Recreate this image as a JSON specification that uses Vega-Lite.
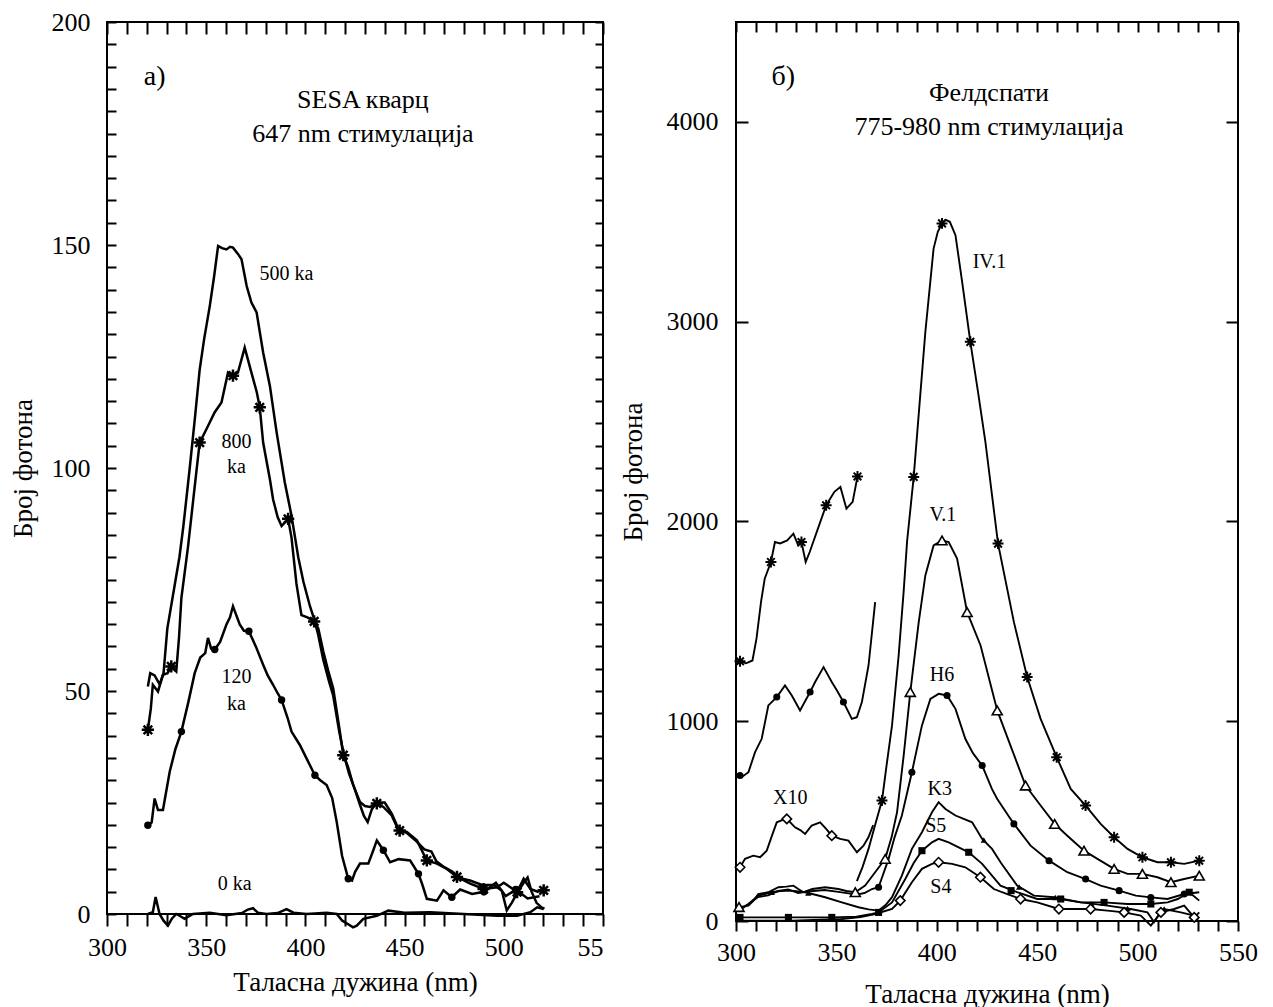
{
  "$schema": "https://vega.github.io/schema/vega-lite/v6.json",
  "background": "white",
  "padding": {"left": 8, "top": 8, "right": 5, "bottom": 5},
  "spacing": 133,
  "bounds": "flush",
  "datasets": {
    "leftLines": [
      {"series":"500ka","wl":320.6,"count":51},{"series":"500ka","wl":321.8,"count":54},{"series":"500ka","wl":324,"count":53.5},{"series":"500ka","wl":326.5,"count":51.5},{"series":"500ka","wl":328.5,"count":54},{"series":"500ka","wl":330.4,"count":64},{"series":"500ka","wl":334.6,"count":75},{"series":"500ka","wl":336.5,"count":80},{"series":"500ka","wl":338.5,"count":87},{"series":"500ka","wl":341.7,"count":100},{"series":"500ka","wl":344.5,"count":112},{"series":"500ka","wl":346.7,"count":122},{"series":"500ka","wl":349,"count":129},{"series":"500ka","wl":351.8,"count":136.3},{"series":"500ka","wl":354,"count":143},{"series":"500ka","wl":356,"count":149.8},{"series":"500ka","wl":358,"count":149.3},{"series":"500ka","wl":360.2,"count":149},{"series":"500ka","wl":362,"count":149.6},{"series":"500ka","wl":363.5,"count":149.4},{"series":"500ka","wl":366,"count":148},{"series":"500ka","wl":367.8,"count":146.8},{"series":"500ka","wl":370.4,"count":140.8},{"series":"500ka","wl":372.8,"count":137.1},{"series":"500ka","wl":375.4,"count":134.9},{"series":"500ka","wl":378.7,"count":125.9},{"series":"500ka","wl":382.1,"count":118.4},{"series":"500ka","wl":385.5,"count":108},{"series":"500ka","wl":389.6,"count":96.8},{"series":"500ka","wl":393,"count":89.3},{"series":"500ka","wl":396.4,"count":80},{"series":"500ka","wl":399,"count":74.5},{"series":"500ka","wl":402.3,"count":69},{"series":"500ka","wl":404.5,"count":66},{"series":"500ka","wl":406.5,"count":62.5},{"series":"500ka","wl":409,"count":57},{"series":"500ka","wl":412,"count":52},{"series":"500ka","wl":414,"count":49},{"series":"500ka","wl":417,"count":41},{"series":"500ka","wl":419.5,"count":35.5},{"series":"500ka","wl":422,"count":31.5},{"series":"500ka","wl":424.5,"count":28.5},{"series":"500ka","wl":427.5,"count":24.5},{"series":"500ka","wl":429.5,"count":22},{"series":"500ka","wl":431.4,"count":20.6},{"series":"500ka","wl":433.5,"count":23.5},{"series":"500ka","wl":436,"count":25},{"series":"500ka","wl":440,"count":25},{"series":"500ka","wl":443.5,"count":22.5},{"series":"500ka","wl":447,"count":19},{"series":"500ka","wl":451,"count":18.2},{"series":"500ka","wl":456,"count":16.3},{"series":"500ka","wl":460,"count":14.5},{"series":"500ka","wl":463.5,"count":14},{"series":"500ka","wl":466,"count":11.8},{"series":"500ka","wl":470,"count":10.5},{"series":"500ka","wl":474,"count":9.5},{"series":"500ka","wl":478,"count":8},{"series":"500ka","wl":483,"count":7.5},{"series":"500ka","wl":489,"count":6.5},{"series":"500ka","wl":495,"count":6.5},{"series":"500ka","wl":499,"count":5.2},{"series":"500ka","wl":501.5,"count":0.8},{"series":"500ka","wl":504,"count":2.5},{"series":"500ka","wl":506.5,"count":4.5},{"series":"500ka","wl":510,"count":7},{"series":"500ka","wl":512,"count":8.2},{"series":"500ka","wl":514,"count":5},{"series":"500ka","wl":516.5,"count":2.5},{"series":"500ka","wl":519,"count":1.5},{"series":"500ka","wl":520.5,"count":1.2},
      {"series":"800ka","wl":320.6,"count":41.3},{"series":"800ka","wl":322.1,"count":46.1},{"series":"800ka","wl":323.1,"count":51.4},{"series":"800ka","wl":325.7,"count":49.9},{"series":"800ka","wl":328.2,"count":53.6},{"series":"800ka","wl":330.5,"count":54},{"series":"800ka","wl":332.4,"count":55.5},{"series":"800ka","wl":334.9,"count":54.4},{"series":"800ka","wl":336.3,"count":62},{"series":"800ka","wl":337.5,"count":70.9},{"series":"800ka","wl":340.8,"count":82.2},{"series":"800ka","wl":343.5,"count":93},{"series":"800ka","wl":346.7,"count":105.7},{"series":"800ka","wl":350.1,"count":108.7},{"series":"800ka","wl":354.3,"count":112.5},{"series":"800ka","wl":357.7,"count":114.7},{"series":"800ka","wl":361,"count":121.4},{"series":"800ka","wl":363.5,"count":120.7},{"series":"800ka","wl":366,"count":121.4},{"series":"800ka","wl":369.4,"count":127},{"series":"800ka","wl":372.8,"count":121.4},{"series":"800ka","wl":375.5,"count":117},{"series":"800ka","wl":377,"count":113.6},{"series":"800ka","wl":378.7,"count":105.7},{"series":"800ka","wl":382.1,"count":97.5},{"series":"800ka","wl":383.7,"count":93},{"series":"800ka","wl":386,"count":89},{"series":"800ka","wl":388,"count":87},{"series":"800ka","wl":391.3,"count":88.6},{"series":"800ka","wl":393,"count":84.4},{"series":"800ka","wl":395.5,"count":74},{"series":"800ka","wl":398,"count":67},{"series":"800ka","wl":401,"count":66.5},{"series":"800ka","wl":404.4,"count":65.6},{"series":"800ka","wl":406.5,"count":64},{"series":"800ka","wl":409,"count":58.9},{"series":"800ka","wl":411.5,"count":54.5},{"series":"800ka","wl":414,"count":50.6},{"series":"800ka","wl":417,"count":42},{"series":"800ka","wl":419.1,"count":35.6},{"series":"800ka","wl":421.5,"count":33},{"series":"800ka","wl":424.1,"count":28.9},{"series":"800ka","wl":427.5,"count":25.1},{"series":"800ka","wl":430,"count":24.2},{"series":"800ka","wl":432.6,"count":24},{"series":"800ka","wl":436,"count":24.8},{"series":"800ka","wl":439.3,"count":24},{"series":"800ka","wl":443.5,"count":22.1},{"series":"800ka","wl":446.9,"count":18.8},{"series":"800ka","wl":451.1,"count":18.4},{"series":"800ka","wl":456.2,"count":16.5},{"series":"800ka","wl":461.2,"count":12},{"series":"800ka","wl":466.3,"count":11.3},{"series":"800ka","wl":471.3,"count":10.1},{"series":"800ka","wl":476.4,"count":8.3},{"series":"800ka","wl":483.1,"count":6.8},{"series":"800ka","wl":489.8,"count":5.6},{"series":"800ka","wl":496.6,"count":6},{"series":"800ka","wl":500,"count":7},{"series":"800ka","wl":503.3,"count":6},{"series":"800ka","wl":506.7,"count":4.9},{"series":"800ka","wl":510,"count":7.9},{"series":"800ka","wl":513.4,"count":5.6},{"series":"800ka","wl":517,"count":5},{"series":"800ka","wl":520.1,"count":5.3},
      {"series":"120ka","wl":320.6,"count":19.9},{"series":"120ka","wl":322.5,"count":20.5},{"series":"120ka","wl":324,"count":25.9},{"series":"120ka","wl":325.7,"count":23.3},{"series":"120ka","wl":328.2,"count":23.3},{"series":"120ka","wl":331.6,"count":31.9},{"series":"120ka","wl":334.5,"count":37},{"series":"120ka","wl":337.5,"count":40.9},{"series":"120ka","wl":341,"count":47.5},{"series":"120ka","wl":344.2,"count":54},{"series":"120ka","wl":347,"count":57.5},{"series":"120ka","wl":349.5,"count":58.5},{"series":"120ka","wl":350.9,"count":61.9},{"series":"120ka","wl":352.5,"count":59.5},{"series":"120ka","wl":354.3,"count":59.3},{"series":"120ka","wl":357,"count":61},{"series":"120ka","wl":360.2,"count":64.9},{"series":"120ka","wl":362,"count":66.5},{"series":"120ka","wl":363.5,"count":69},{"series":"120ka","wl":366.9,"count":64.9},{"series":"120ka","wl":369,"count":63.5},{"series":"120ka","wl":371.5,"count":63.4},{"series":"120ka","wl":375,"count":60},{"series":"120ka","wl":378.7,"count":55.9},{"series":"120ka","wl":381,"count":53.5},{"series":"120ka","wl":383.7,"count":51.4},{"series":"120ka","wl":386,"count":49.5},{"series":"120ka","wl":388,"count":48},{"series":"120ka","wl":391,"count":44},{"series":"120ka","wl":393,"count":40.9},{"series":"120ka","wl":397.2,"count":37.9},{"series":"120ka","wl":401,"count":34.5},{"series":"120ka","wl":404.8,"count":31.1},{"series":"120ka","wl":407.5,"count":30},{"series":"120ka","wl":410.7,"count":28.9},{"series":"120ka","wl":413.5,"count":26},{"series":"120ka","wl":415.8,"count":20.6},{"series":"120ka","wl":418.5,"count":13},{"series":"120ka","wl":421.6,"count":7.9},{"series":"120ka","wl":423.5,"count":7.5},{"series":"120ka","wl":425,"count":9.4},{"series":"120ka","wl":427.5,"count":11.3},{"series":"120ka","wl":431.7,"count":11.3},{"series":"120ka","wl":434,"count":14},{"series":"120ka","wl":436,"count":16.5},{"series":"120ka","wl":439.3,"count":14.3},{"series":"120ka","wl":442.7,"count":11.6},{"series":"120ka","wl":447,"count":12.3},{"series":"120ka","wl":452.8,"count":12},{"series":"120ka","wl":457,"count":9},{"series":"120ka","wl":459,"count":6.5},{"series":"120ka","wl":461.2,"count":3.4},{"series":"120ka","wl":466.3,"count":3},{"series":"120ka","wl":469.6,"count":5.3},{"series":"120ka","wl":473.8,"count":3.75},{"series":"120ka","wl":478,"count":5.5},{"series":"120ka","wl":484,"count":4.5},{"series":"120ka","wl":490,"count":5},{"series":"120ka","wl":496,"count":7},{"series":"120ka","wl":501,"count":4},{"series":"120ka","wl":506,"count":5.5},{"series":"120ka","wl":512,"count":3.5},{"series":"120ka","wl":518,"count":4},
      {"series":"0ka","wl":320.6,"count":0},{"series":"0ka","wl":323.1,"count":0.4},{"series":"0ka","wl":324.5,"count":3.8},{"series":"0ka","wl":326.5,"count":0},{"series":"0ka","wl":328.5,"count":-1.5},{"series":"0ka","wl":330.7,"count":-2.6},{"series":"0ka","wl":332.8,"count":-1},{"series":"0ka","wl":334.9,"count":0},{"series":"0ka","wl":337,"count":-0.5},{"series":"0ka","wl":339.1,"count":-1.1},{"series":"0ka","wl":343.3,"count":0},{"series":"0ka","wl":351.8,"count":0.3},{"series":"0ka","wl":360.2,"count":-0.3},{"series":"0ka","wl":368,"count":0.2},{"series":"0ka","wl":371,"count":1},{"series":"0ka","wl":373.6,"count":1.3},{"series":"0ka","wl":376,"count":0.3},{"series":"0ka","wl":380.4,"count":0},{"series":"0ka","wl":386,"count":0.2},{"series":"0ka","wl":390.5,"count":1.1},{"series":"0ka","wl":394,"count":0.3},{"series":"0ka","wl":400.6,"count":0},{"series":"0ka","wl":410.7,"count":0.3},{"series":"0ka","wl":415.8,"count":0},{"series":"0ka","wl":418.6,"count":-1.5},{"series":"0ka","wl":421.6,"count":-2.3},{"series":"0ka","wl":424,"count":-3},{"series":"0ka","wl":425.9,"count":-2.6},{"series":"0ka","wl":429.2,"count":-1.1},{"series":"0ka","wl":436,"count":-0.4},{"series":"0ka","wl":441.8,"count":0.75},{"series":"0ka","wl":450,"count":0.3},{"series":"0ka","wl":462.9,"count":0.4},{"series":"0ka","wl":479.7,"count":0},{"series":"0ka","wl":496.6,"count":-0.4},{"series":"0ka","wl":506.7,"count":-0.4},{"series":"0ka","wl":513.4,"count":0.4},{"series":"0ka","wl":516.8,"count":1.5},{"series":"0ka","wl":520.1,"count":1.1}
    ],
    "leftMarks": [
      {"series":"800ka","wl":320.6,"count":41.3},{"series":"800ka","wl":332.4,"count":55.5},{"series":"800ka","wl":346.7,"count":105.7},{"series":"800ka","wl":363.5,"count":120.7},{"series":"800ka","wl":377,"count":113.6},{"series":"800ka","wl":391.3,"count":88.6},{"series":"800ka","wl":404.4,"count":65.6},{"series":"800ka","wl":419.1,"count":35.6},{"series":"800ka","wl":436,"count":24.8},{"series":"800ka","wl":447.5,"count":18.7},{"series":"800ka","wl":461.2,"count":12},{"series":"800ka","wl":476.4,"count":8.3},{"series":"800ka","wl":489.8,"count":5.6},{"series":"800ka","wl":506.7,"count":4.9},{"series":"800ka","wl":520.1,"count":5.3},
      {"series":"120ka","wl":320.6,"count":19.9},{"series":"120ka","wl":337.5,"count":40.9},{"series":"120ka","wl":354.3,"count":59.3},{"series":"120ka","wl":371.5,"count":63.4},{"series":"120ka","wl":388,"count":48},{"series":"120ka","wl":404.8,"count":31.1},{"series":"120ka","wl":421.6,"count":7.9},{"series":"120ka","wl":439.3,"count":14.3},{"series":"120ka","wl":457,"count":9},{"series":"120ka","wl":473.8,"count":3.75},{"series":"120ka","wl":490,"count":5},{"series":"120ka","wl":506,"count":5.5}
    ],
    "leftText": [
      {"text":"a)","wl":324,"count":187.6,"kind":"panel"},
      {"text":"SESA кварц","wl":429,"count":182.4,"kind":"title"},
      {"text":"647 nm стимулација","wl":429,"count":174.9,"kind":"title"},
      {"text":"500 ka","wl":390.5,"count":143.5,"kind":"curve"},
      {"text":"800","wl":365.3,"count":105.8,"kind":"curve"},
      {"text":"ka","wl":365.3,"count":100.2,"kind":"curve"},
      {"text":"120","wl":365.3,"count":53.1,"kind":"curve"},
      {"text":"ka","wl":365.3,"count":47.1,"kind":"curve"},
      {"text":"0 ka","wl":364.4,"count":6.7,"kind":"curve"}
    ],
    "rightLines": [
      {"series":"IV.1x10","wl":300.5,"count":1285},{"series":"IV.1x10","wl":302,"count":1300},{"series":"IV.1x10","wl":305,"count":1290},{"series":"IV.1x10","wl":308.2,"count":1304},{"series":"IV.1x10","wl":310.2,"count":1413},{"series":"IV.1x10","wl":312.5,"count":1600},{"series":"IV.1x10","wl":314.3,"count":1713},{"series":"IV.1x10","wl":317.4,"count":1797},{"series":"IV.1x10","wl":319.4,"count":1897},{"series":"IV.1x10","wl":322,"count":1890},{"series":"IV.1x10","wl":325.5,"count":1905},{"series":"IV.1x10","wl":328.6,"count":1939},{"series":"IV.1x10","wl":331,"count":1880},{"series":"IV.1x10","wl":332.6,"count":1897},{"series":"IV.1x10","wl":334.7,"count":1797},{"series":"IV.1x10","wl":336.7,"count":1847},{"series":"IV.1x10","wl":340.8,"count":1964},{"series":"IV.1x10","wl":344.9,"count":2081},{"series":"IV.1x10","wl":349,"count":2148},{"series":"IV.1x10","wl":352,"count":2173},{"series":"IV.1x10","wl":355,"count":2064},{"series":"IV.1x10","wl":358.1,"count":2098},{"series":"IV.1x10","wl":360.5,"count":2225},
      {"series":"IV.1","wl":360.2,"count":200},{"series":"IV.1","wl":363,"count":270},{"series":"IV.1","wl":366,"count":361},{"series":"IV.1","wl":369,"count":470},{"series":"IV.1","wl":372.7,"count":603},{"series":"IV.1","wl":375,"count":780},{"series":"IV.1","wl":377.7,"count":979},{"series":"IV.1","wl":381,"count":1329},{"series":"IV.1","wl":383.5,"count":1650},{"series":"IV.1","wl":385.2,"count":1900},{"series":"IV.1","wl":388.5,"count":2223},{"series":"IV.1","wl":391.5,"count":2600},{"series":"IV.1","wl":394.3,"count":2949},{"series":"IV.1","wl":398.4,"count":3366},{"series":"IV.1","wl":400.5,"count":3450},{"series":"IV.1","wl":402.6,"count":3492},{"series":"IV.1","wl":404.5,"count":3510},{"series":"IV.1","wl":406.5,"count":3500},{"series":"IV.1","wl":409.3,"count":3433},{"series":"IV.1","wl":412.6,"count":3200},{"series":"IV.1","wl":416.7,"count":2899},{"series":"IV.1","wl":420.5,"count":2650},{"series":"IV.1","wl":424.2,"count":2398},{"series":"IV.1","wl":430.5,"count":1889},{"series":"IV.1","wl":438.4,"count":1496},{"series":"IV.1","wl":445,"count":1221},{"series":"IV.1","wl":451.7,"count":1012},{"series":"IV.1","wl":459.7,"count":820},{"series":"IV.1","wl":466.7,"count":661},{"series":"IV.1","wl":474.1,"count":578},{"series":"IV.1","wl":481.6,"count":486},{"series":"IV.1","wl":488.3,"count":419},{"series":"IV.1","wl":495,"count":361},{"series":"IV.1","wl":502.4,"count":319},{"series":"IV.1","wl":509.9,"count":294},{"series":"IV.1","wl":516.6,"count":294},{"series":"IV.1","wl":523.2,"count":286},{"series":"IV.1","wl":530.7,"count":302},
      {"series":"V.1","wl":300.5,"count":68},{"series":"V.1","wl":303,"count":72},{"series":"V.1","wl":306.2,"count":77},{"series":"V.1","wl":308.5,"count":100},{"series":"V.1","wl":311.1,"count":135},{"series":"V.1","wl":316.1,"count":144},{"series":"V.1","wl":321.1,"count":169},{"series":"V.1","wl":325,"count":172},{"series":"V.1","wl":328.6,"count":177},{"series":"V.1","wl":331,"count":160},{"series":"V.1","wl":333.6,"count":144},{"series":"V.1","wl":338,"count":160},{"series":"V.1","wl":344.4,"count":169},{"series":"V.1","wl":351,"count":160},{"series":"V.1","wl":355,"count":150},{"series":"V.1","wl":359.4,"count":144},{"series":"V.1","wl":364.3,"count":177},{"series":"V.1","wl":369.3,"count":244},{"series":"V.1","wl":374.3,"count":311},{"series":"V.1","wl":377.5,"count":420},{"series":"V.1","wl":380.2,"count":544},{"series":"V.1","wl":383.5,"count":828},{"series":"V.1","wl":386.8,"count":1146},{"series":"V.1","wl":391,"count":1496},{"series":"V.1","wl":394.3,"count":1730},{"series":"V.1","wl":398.4,"count":1880},{"series":"V.1","wl":402.6,"count":1905},{"series":"V.1","wl":405.9,"count":1897},{"series":"V.1","wl":410.1,"count":1814},{"series":"V.1","wl":415.1,"count":1546},{"series":"V.1","wl":421.8,"count":1379},{"series":"V.1","wl":430.1,"count":1054},{"series":"V.1","wl":436.7,"count":878},{"series":"V.1","wl":444.2,"count":678},{"series":"V.1","wl":451.7,"count":578},{"series":"V.1","wl":458.7,"count":486},{"series":"V.1","wl":465,"count":427},{"series":"V.1","wl":473.3,"count":352},{"series":"V.1","wl":480,"count":311},{"series":"V.1","wl":488.3,"count":261},{"series":"V.1","wl":495,"count":236},{"series":"V.1","wl":502.4,"count":236},{"series":"V.1","wl":509.9,"count":219},{"series":"V.1","wl":516.6,"count":194},{"series":"V.1","wl":523.2,"count":210},{"series":"V.1","wl":530.7,"count":227},
      {"series":"H6x10","wl":300.5,"count":735},{"series":"H6x10","wl":302.8,"count":720},{"series":"H6x10","wl":306.2,"count":745},{"series":"H6x10","wl":309.5,"count":845},{"series":"H6x10","wl":312.8,"count":912},{"series":"H6x10","wl":316.1,"count":1079},{"series":"H6x10","wl":320.3,"count":1121},{"series":"H6x10","wl":324.4,"count":1179},{"series":"H6x10","wl":327.8,"count":1129},{"series":"H6x10","wl":331.9,"count":1054},{"series":"H6x10","wl":336.9,"count":1146},{"series":"H6x10","wl":339.4,"count":1196},{"series":"H6x10","wl":343.6,"count":1271},{"series":"H6x10","wl":347.7,"count":1196},{"series":"H6x10","wl":350.5,"count":1150},{"series":"H6x10","wl":353.5,"count":1096},{"series":"H6x10","wl":357.7,"count":1012},{"series":"H6x10","wl":360.2,"count":1020},{"series":"H6x10","wl":362.7,"count":1096},{"series":"H6x10","wl":366,"count":1279},{"series":"H6x10","wl":369.3,"count":1596},
      {"series":"H6","wl":300.5,"count":55},{"series":"H6","wl":303,"count":62},{"series":"H6","wl":307,"count":90},{"series":"H6","wl":311,"count":120},{"series":"H6","wl":316,"count":128},{"series":"H6","wl":321,"count":150},{"series":"H6","wl":326,"count":158},{"series":"H6","wl":331,"count":140},{"series":"H6","wl":336,"count":148},{"series":"H6","wl":344,"count":155},{"series":"H6","wl":351,"count":146},{"series":"H6","wl":356,"count":138},{"series":"H6","wl":360,"count":132},{"series":"H6","wl":364,"count":140},{"series":"H6","wl":367.7,"count":160},{"series":"H6","wl":371,"count":169},{"series":"H6","wl":376,"count":311},{"series":"H6","wl":379,"count":420},{"series":"H6","wl":382.6,"count":528},{"series":"H6","wl":387.6,"count":745},{"series":"H6","wl":392.6,"count":979},{"series":"H6","wl":396.8,"count":1112},{"series":"H6","wl":400.9,"count":1137},{"series":"H6","wl":405.1,"count":1129},{"series":"H6","wl":409.3,"count":1062},{"series":"H6","wl":414.2,"count":912},{"series":"H6","wl":418,"count":840},{"series":"H6","wl":422.6,"count":778},{"series":"H6","wl":427.5,"count":660},{"series":"H6","wl":430.1,"count":611},{"series":"H6","wl":438.4,"count":486},{"series":"H6","wl":446.7,"count":377},{"series":"H6","wl":455.9,"count":302},{"series":"H6","wl":465,"count":244},{"series":"H6","wl":474.1,"count":210},{"series":"H6","wl":481.6,"count":177},{"series":"H6","wl":490.8,"count":152},{"series":"H6","wl":499.1,"count":127},{"series":"H6","wl":506.6,"count":118},{"series":"H6","wl":514.9,"count":110},{"series":"H6","wl":523.2,"count":135},{"series":"H6","wl":530.7,"count":144},
      {"series":"K3","wl":300.5,"count":50},{"series":"K3","wl":302,"count":60},{"series":"K3","wl":306.2,"count":85},{"series":"K3","wl":311.1,"count":127},{"series":"K3","wl":317.8,"count":144},{"series":"K3","wl":322,"count":150},{"series":"K3","wl":327.8,"count":152},{"series":"K3","wl":334.4,"count":144},{"series":"K3","wl":340,"count":130},{"series":"K3","wl":344.4,"count":119},{"series":"K3","wl":352.7,"count":93},{"series":"K3","wl":361,"count":69},{"series":"K3","wl":366,"count":58},{"series":"K3","wl":371,"count":52},{"series":"K3","wl":374.5,"count":80},{"series":"K3","wl":377.7,"count":119},{"series":"K3","wl":382.6,"count":227},{"series":"K3","wl":387.6,"count":361},{"series":"K3","wl":392.6,"count":444},{"series":"K3","wl":397.6,"count":544},{"series":"K3","wl":400.9,"count":595},{"series":"K3","wl":404.3,"count":561},{"series":"K3","wl":409.3,"count":528},{"series":"K3","wl":413.4,"count":511},{"series":"K3","wl":417.6,"count":494},{"series":"K3","wl":422.6,"count":411},{"series":"K3","wl":427.5,"count":361},{"series":"K3","wl":432,"count":290},{"series":"K3","wl":440,"count":177},{"series":"K3","wl":448.4,"count":127},{"series":"K3","wl":458.4,"count":119},{"series":"K3","wl":471.7,"count":93},{"series":"K3","wl":485,"count":77},{"series":"K3","wl":496.6,"count":60},{"series":"K3","wl":504.9,"count":43},{"series":"K3","wl":508.2,"count":-5},{"series":"K3","wl":510.5,"count":30},{"series":"K3","wl":513.2,"count":60},{"series":"K3","wl":521.5,"count":43},{"series":"K3","wl":528.2,"count":27},{"series":"K3","wl":530.5,"count":10},
      {"series":"S5","wl":300.5,"count":18},{"series":"S5","wl":326.1,"count":18},{"series":"S5","wl":347.7,"count":18},{"series":"S5","wl":360,"count":22},{"series":"S5","wl":367.7,"count":35},{"series":"S5","wl":371,"count":43},{"series":"S5","wl":377.7,"count":93},{"series":"S5","wl":384.3,"count":210},{"series":"S5","wl":388.5,"count":290},{"series":"S5","wl":392.6,"count":352},{"series":"S5","wl":397.6,"count":394},{"series":"S5","wl":400.9,"count":411},{"series":"S5","wl":405.9,"count":394},{"series":"S5","wl":410.9,"count":369},{"series":"S5","wl":415.9,"count":344},{"series":"S5","wl":422.6,"count":286},{"series":"S5","wl":431.7,"count":177},{"series":"S5","wl":440,"count":144},{"series":"S5","wl":450,"count":110},{"series":"S5","wl":461.7,"count":110},{"series":"S5","wl":471.7,"count":93},{"series":"S5","wl":483.3,"count":93},{"series":"S5","wl":495,"count":85},{"series":"S5","wl":506.6,"count":85},{"series":"S5","wl":514.9,"count":93},{"series":"S5","wl":520,"count":110},{"series":"S5","wl":525.7,"count":144},{"series":"S5","wl":530.7,"count":102},
      {"series":"S4","wl":300.5,"count":2},{"series":"S4","wl":327.8,"count":2},{"series":"S4","wl":352.7,"count":10},{"series":"S4","wl":362,"count":20},{"series":"S4","wl":369.3,"count":35},{"series":"S4","wl":377.7,"count":60},{"series":"S4","wl":381.8,"count":102},{"series":"S4","wl":387.6,"count":194},{"series":"S4","wl":392.6,"count":261},{"series":"S4","wl":397.6,"count":286},{"series":"S4","wl":400.9,"count":294},{"series":"S4","wl":407.6,"count":286},{"series":"S4","wl":414.2,"count":269},{"series":"S4","wl":421.7,"count":219},{"series":"S4","wl":428.4,"count":160},{"series":"S4","wl":435.1,"count":135},{"series":"S4","wl":441.7,"count":110},{"series":"S4","wl":450,"count":93},{"series":"S4","wl":460.8,"count":60},{"series":"S4","wl":468.3,"count":60},{"series":"S4","wl":476.6,"count":60},{"series":"S4","wl":485,"count":52},{"series":"S4","wl":493.3,"count":43},{"series":"S4","wl":501.6,"count":27},{"series":"S4","wl":506.6,"count":-23},{"series":"S4","wl":511.6,"count":43},{"series":"S4","wl":518.2,"count":60},{"series":"S4","wl":523.2,"count":77},{"series":"S4","wl":528.2,"count":18},{"series":"S4","wl":530.7,"count":43},
      {"series":"X10","wl":300.5,"count":260},{"series":"X10","wl":302,"count":269},{"series":"X10","wl":304.5,"count":311},{"series":"X10","wl":308.6,"count":327},{"series":"X10","wl":312,"count":319},{"series":"X10","wl":315.3,"count":352},{"series":"X10","wl":318,"count":430},{"series":"X10","wl":320.3,"count":494},{"series":"X10","wl":323,"count":505},{"series":"X10","wl":325.3,"count":511},{"series":"X10","wl":329.4,"count":469},{"series":"X10","wl":332,"count":455},{"series":"X10","wl":334.4,"count":436},{"series":"X10","wl":337.7,"count":478},{"series":"X10","wl":341.9,"count":494},{"series":"X10","wl":345,"count":460},{"series":"X10","wl":347.7,"count":427},{"series":"X10","wl":351.9,"count":411},{"series":"X10","wl":356,"count":402},{"series":"X10","wl":360.2,"count":344},{"series":"X10","wl":363.5,"count":377},{"series":"X10","wl":366,"count":420},{"series":"X10","wl":368.3,"count":480}
    ],
    "rightMarks": [
      {"series":"IV.1","wl":302,"count":1300},{"series":"IV.1","wl":317.4,"count":1797},{"series":"IV.1","wl":332.6,"count":1897},{"series":"IV.1","wl":344.9,"count":2081},{"series":"IV.1","wl":360.5,"count":2225},
      {"series":"IV.1","wl":372.7,"count":603},{"series":"IV.1","wl":388.5,"count":2223},{"series":"IV.1","wl":402.6,"count":3492},{"series":"IV.1","wl":416.7,"count":2899},{"series":"IV.1","wl":430.5,"count":1889},{"series":"IV.1","wl":445,"count":1221},{"series":"IV.1","wl":459.7,"count":820},{"series":"IV.1","wl":474.1,"count":578},{"series":"IV.1","wl":488.3,"count":419},{"series":"IV.1","wl":502.4,"count":319},{"series":"IV.1","wl":516.6,"count":294},{"series":"IV.1","wl":530.7,"count":302},
      {"series":"V.1","wl":301.5,"count":70},{"series":"V.1","wl":359.4,"count":144},{"series":"V.1","wl":374.3,"count":311},{"series":"V.1","wl":386.8,"count":1146},{"series":"V.1","wl":402.6,"count":1905},{"series":"V.1","wl":415.1,"count":1546},{"series":"V.1","wl":430.1,"count":1054},{"series":"V.1","wl":444.2,"count":678},{"series":"V.1","wl":458.7,"count":486},{"series":"V.1","wl":473.3,"count":352},{"series":"V.1","wl":488.3,"count":261},{"series":"V.1","wl":502.4,"count":236},{"series":"V.1","wl":516.6,"count":194},{"series":"V.1","wl":530.7,"count":227},
      {"series":"H6","wl":302,"count":728},{"series":"H6","wl":320.3,"count":1121},{"series":"H6","wl":336.9,"count":1146},{"series":"H6","wl":353.5,"count":1096},
      {"series":"H6","wl":371,"count":169},{"series":"H6","wl":387.6,"count":745},{"series":"H6","wl":405.1,"count":1129},{"series":"H6","wl":422.6,"count":778},{"series":"H6","wl":438.4,"count":486},{"series":"H6","wl":455.9,"count":302},{"series":"H6","wl":474.1,"count":210},{"series":"H6","wl":490.8,"count":152},{"series":"H6","wl":506.6,"count":118},{"series":"H6","wl":523.2,"count":135},
      {"series":"K3","wl":317.8,"count":144},{"series":"K3","wl":336,"count":140},{"series":"K3","wl":423.4,"count":405},{"series":"K3","wl":441,"count":170},{"series":"K3","wl":459,"count":118},{"series":"K3","wl":477,"count":86},{"series":"K3","wl":495,"count":62},{"series":"K3","wl":513.2,"count":60},
      {"series":"S5","wl":302,"count":18},{"series":"S5","wl":326.1,"count":18},{"series":"S5","wl":347.7,"count":18},{"series":"S5","wl":371,"count":43},{"series":"S5","wl":392.6,"count":352},{"series":"S5","wl":415.9,"count":344},{"series":"S5","wl":437,"count":152},{"series":"S5","wl":461.7,"count":110},{"series":"S5","wl":483.3,"count":93},{"series":"S5","wl":506.6,"count":85},{"series":"S5","wl":525.7,"count":144},
      {"series":"S4","wl":381.8,"count":102},{"series":"S4","wl":400.9,"count":294},{"series":"S4","wl":421.7,"count":219},{"series":"S4","wl":441.7,"count":110},{"series":"S4","wl":460.8,"count":60},{"series":"S4","wl":476.6,"count":60},{"series":"S4","wl":493.3,"count":43},{"series":"S4","wl":511.6,"count":43},{"series":"S4","wl":528.2,"count":18},
      {"series":"X10","wl":302,"count":269},{"series":"X10","wl":325.3,"count":511},{"series":"X10","wl":347.7,"count":427}
    ],
    "rightText": [
      {"text":"б)","wl":323.6,"count":4227,"kind":"panel"},
      {"text":"Фелдспати","wl":426,"count":4143,"kind":"title"},
      {"text":"775-980 nm стимулација","wl":426,"count":3976,"kind":"title"},
      {"text":"IV.1","wl":426.2,"count":3300,"kind":"curve"},
      {"text":"V.1","wl":403,"count":2030,"kind":"curve"},
      {"text":"H6","wl":402.6,"count":1230,"kind":"curve"},
      {"text":"K3","wl":401.5,"count":661,"kind":"curve"},
      {"text":"S5","wl":399.5,"count":477,"kind":"curve"},
      {"text":"S4","wl":402,"count":170,"kind":"curve"},
      {"text":"X10","wl":327,"count":615,"kind":"curve"}
    ]
  },
  "hconcat": [
    {
      "width": 496,
      "height": 892,
      "encoding": {
        "x": {"field": "wl", "type": "quantitative", "scale": {"domain": [300, 550], "nice": false, "zero": false}},
        "y": {"field": "count", "type": "quantitative", "scale": {"domain": [0, 200], "nice": false, "zero": false}}
      },
      "layer": [
        {
          "data": {"name": "leftLines"},
          "mark": {"type": "line", "color": "black", "strokeWidth": 2.5, "clip": false},
          "encoding": {
            "x": {"field": "wl", "type": "quantitative",
              "axis": {"orient": "bottom", "values": [300,310,320,330,340,350,360,370,380,390,400,410,420,430,440,450,460,470,480,490,500,510,520,530,540,550],
                "tickSize": 12, "labelPadding": 8, "labelFlush": false,
                "labelExpr": "datum.value % 50 === 0 ? (datum.value === 550 ? '55' : datum.label) : ''",
                "labelAlign": {"condition": {"test": "datum.value === 550", "value": "right"}, "value": "center"},
                "title": "Таласна дужина (nm)", "titlePadding": 9}},
            "y": {"field": "count", "type": "quantitative",
              "axis": {"orient": "left", "values": [0,5,10,15,20,25,30,35,40,45,50,55,60,65,70,75,80,85,90,95,100,105,110,115,120,125,130,135,140,145,150,155,160,165,170,175,180,185,190,195,200],
                "tickSize": -9, "labelPadding": 26,
                "labelExpr": "datum.value % 50 === 0 ? datum.label : ''",
                "title": "Број фотона", "titlePadding": 14}},
            "detail": {"field": "series"}
          }
        },
        {
          "data": {"name": "leftMarks"},
          "transform": [{"filter": "datum.series === '800ka'"}],
          "mark": {"type": "point", "shape": "M-1,0H1M0,-1V1M-0.7,-0.7L0.7,0.7M-0.7,0.7L0.7,-0.7", "filled": false, "stroke": "black", "strokeWidth": 2.5, "size": 150, "opacity": 1},
          "encoding": {
            "x": {"field": "wl", "type": "quantitative",
              "axis": {"orient": "top", "values": [300,310,320,330,340,350,360,370,380,390,400,410,420,430,440,450,460,470,480,490,500,510,520,530,540,550], "tickSize": -12, "labels": false, "title": null}},
            "y": {"field": "count", "type": "quantitative",
              "axis": {"orient": "right", "values": [0,5,10,15,20,25,30,35,40,45,50,55,60,65,70,75,80,85,90,95,100,105,110,115,120,125,130,135,140,145,150,155,160,165,170,175,180,185,190,195,200], "tickSize": -8, "labels": false, "title": null}}
          }
        },
        {
          "data": {"name": "leftMarks"},
          "transform": [{"filter": "datum.series === '120ka'"}],
          "mark": {"type": "point", "shape": "circle", "filled": true, "color": "black", "size": 55, "opacity": 1},
          "encoding": {"x": {"field": "wl", "type": "quantitative", "axis": null}, "y": {"field": "count", "type": "quantitative", "axis": null}}
        },
        {
          "data": {"name": "leftText"},
          "transform": [{"filter": "datum.kind === 'panel'"}],
          "mark": {"type": "text", "align": "center", "baseline": "middle", "font": "Liberation Serif", "fontSize": 28, "color": "black"},
          "encoding": {"x": {"field": "wl", "type": "quantitative", "axis": null}, "y": {"field": "count", "type": "quantitative", "axis": null}, "text": {"field": "text"}}
        },
        {
          "data": {"name": "leftText"},
          "transform": [{"filter": "datum.kind === 'title'"}],
          "mark": {"type": "text", "align": "center", "baseline": "middle", "font": "Liberation Serif", "fontSize": 26, "color": "black"},
          "encoding": {"x": {"field": "wl", "type": "quantitative", "axis": null}, "y": {"field": "count", "type": "quantitative", "axis": null}, "text": {"field": "text"}}
        },
        {
          "data": {"name": "leftText"},
          "transform": [{"filter": "datum.kind === 'curve'"}],
          "mark": {"type": "text", "align": "center", "baseline": "middle", "font": "Liberation Serif", "fontSize": 20, "color": "black"},
          "encoding": {"x": {"field": "wl", "type": "quantitative", "axis": null}, "y": {"field": "count", "type": "quantitative", "axis": null}, "text": {"field": "text"}}
        }
      ],
      "resolve": {"axis": {"x": "independent", "y": "independent"}}
    },
    {
      "width": 502,
      "height": 899,
      "encoding": {
        "x": {"field": "wl", "type": "quantitative", "scale": {"domain": [300, 550], "nice": false, "zero": false}},
        "y": {"field": "count", "type": "quantitative", "scale": {"domain": [0, 4500], "nice": false, "zero": false}}
      },
      "layer": [
        {
          "data": {"name": "rightLines"},
          "mark": {"type": "line", "color": "black", "strokeWidth": 1.9, "clip": false},
          "encoding": {
            "x": {"field": "wl", "type": "quantitative",
              "axis": {"orient": "bottom", "values": [300,310,320,330,340,350,360,370,380,390,400,410,420,430,440,450,460,470,480,490,500,510,520,530,540,550],
                "tickSize": 10, "labelPadding": 8, "labelFlush": false,
                "labelExpr": "datum.value % 50 === 0 ? datum.label : ''",
                "title": "Таласна дужина (nm)", "titlePadding": 16}},
            "y": {"field": "count", "type": "quantitative",
              "axis": {"orient": "left", "values": [0, 1000, 2000, 3000, 4000], "tickSize": -12, "labelPadding": 30, "format": "d",
                "title": "Број фотона", "titlePadding": 19}},
            "detail": {"field": "series"}
          }
        },
        {
          "data": {"name": "rightMarks"},
          "transform": [{"filter": "datum.series === 'IV.1'"}],
          "mark": {"type": "point", "shape": "M-1,0H1M0,-1V1M-0.7,-0.7L0.7,0.7M-0.7,0.7L0.7,-0.7", "filled": false, "stroke": "black", "strokeWidth": 2, "size": 120, "opacity": 1},
          "encoding": {
            "x": {"field": "wl", "type": "quantitative",
              "axis": {"orient": "top", "values": [300,310,320,330,340,350,360,370,380,390,400,410,420,430,440,450,460,470,480,490,500,510,520,530,540,550], "tickSize": -10, "labels": false, "title": null}},
            "y": {"field": "count", "type": "quantitative",
              "axis": {"orient": "right", "values": [0, 1000, 2000, 3000, 4000], "tickSize": -12, "labels": false, "title": null}}
          }
        },
        {
          "data": {"name": "rightMarks"},
          "transform": [{"filter": "datum.series === 'V.1'"}],
          "mark": {"type": "point", "shape": "triangle-up", "filled": true, "fill": "white", "stroke": "black", "strokeWidth": 1.6, "size": 100, "opacity": 1},
          "encoding": {"x": {"field": "wl", "type": "quantitative", "axis": null}, "y": {"field": "count", "type": "quantitative", "axis": null}}
        },
        {
          "data": {"name": "rightMarks"},
          "transform": [{"filter": "datum.series === 'H6'"}],
          "mark": {"type": "point", "shape": "circle", "filled": true, "color": "black", "size": 50, "opacity": 1},
          "encoding": {"x": {"field": "wl", "type": "quantitative", "axis": null}, "y": {"field": "count", "type": "quantitative", "axis": null}}
        },
        {
          "data": {"name": "rightMarks"},
          "transform": [{"filter": "datum.series === 'K3'"}],
          "mark": {"type": "point", "shape": "triangle-up", "filled": true, "color": "black", "size": 40, "opacity": 1},
          "encoding": {"x": {"field": "wl", "type": "quantitative", "axis": null}, "y": {"field": "count", "type": "quantitative", "axis": null}}
        },
        {
          "data": {"name": "rightMarks"},
          "transform": [{"filter": "datum.series === 'S5'"}],
          "mark": {"type": "point", "shape": "square", "filled": true, "color": "black", "size": 50, "opacity": 1},
          "encoding": {"x": {"field": "wl", "type": "quantitative", "axis": null}, "y": {"field": "count", "type": "quantitative", "axis": null}}
        },
        {
          "data": {"name": "rightMarks"},
          "transform": [{"filter": "datum.series === 'S4' || datum.series === 'X10'"}],
          "mark": {"type": "point", "shape": "diamond", "filled": true, "fill": "white", "stroke": "black", "strokeWidth": 1.6, "size": 90, "opacity": 1},
          "encoding": {"x": {"field": "wl", "type": "quantitative", "axis": null}, "y": {"field": "count", "type": "quantitative", "axis": null}}
        },
        {
          "data": {"name": "rightText"},
          "transform": [{"filter": "datum.kind === 'panel'"}],
          "mark": {"type": "text", "align": "center", "baseline": "middle", "font": "Liberation Serif", "fontSize": 28, "color": "black"},
          "encoding": {"x": {"field": "wl", "type": "quantitative", "axis": null}, "y": {"field": "count", "type": "quantitative", "axis": null}, "text": {"field": "text"}}
        },
        {
          "data": {"name": "rightText"},
          "transform": [{"filter": "datum.kind === 'title'"}],
          "mark": {"type": "text", "align": "center", "baseline": "middle", "font": "Liberation Serif", "fontSize": 26, "color": "black"},
          "encoding": {"x": {"field": "wl", "type": "quantitative", "axis": null}, "y": {"field": "count", "type": "quantitative", "axis": null}, "text": {"field": "text"}}
        },
        {
          "data": {"name": "rightText"},
          "transform": [{"filter": "datum.kind === 'curve'"}],
          "mark": {"type": "text", "align": "center", "baseline": "middle", "font": "Liberation Serif", "fontSize": 20, "color": "black"},
          "encoding": {"x": {"field": "wl", "type": "quantitative", "axis": null}, "y": {"field": "count", "type": "quantitative", "axis": null}, "text": {"field": "text"}}
        }
      ],
      "resolve": {"axis": {"x": "independent", "y": "independent"}}
    }
  ],
  "config": {
    "view": {"stroke": "black", "strokeWidth": 2},
    "axis": {"domain": false, "grid": false, "labelFont": "Liberation Serif", "labelFontSize": 26, "labelColor": "black", "tickColor": "black", "tickWidth": 2, "titleFont": "Liberation Serif", "titleFontSize": 27, "titleFontWeight": "normal", "titleColor": "black", "labelOverlap": false, "labelBound": false}
  }
}
